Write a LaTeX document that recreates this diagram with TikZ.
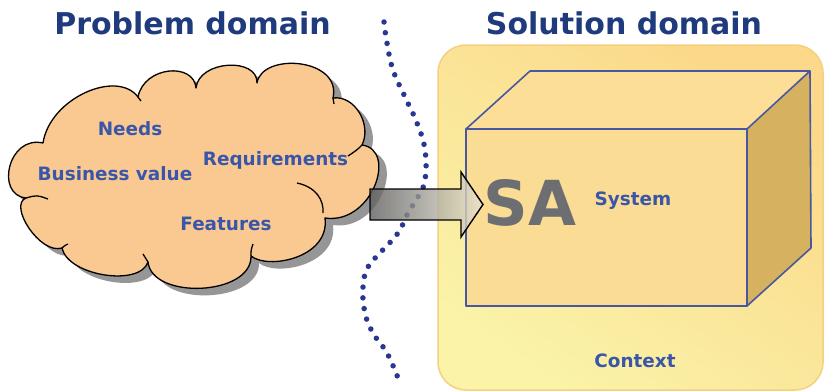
\documentclass[tikz,border=0pt]{standalone}
\usepackage{fontspec}
\setmainfont{DejaVu Sans}
\usetikzlibrary{calc}

\definecolor{titleblue}{RGB}{31,58,125}
\definecolor{labelblue}{RGB}{58,86,168}
\definecolor{dotblue}{RGB}{40,55,145}
\definecolor{edgeblue}{RGB}{72,88,160}
\definecolor{cloudfill}{RGB}{250,201,146}
\definecolor{cloudshadow}{RGB}{150,150,150}
\definecolor{ctxlight}{RGB}{250,243,168}
\definecolor{ctxdark}{RGB}{251,216,138}
\definecolor{ctxedge}{RGB}{245,208,125}
\definecolor{boxfront}{RGB}{251,220,148}
\definecolor{boxtop}{RGB}{252,222,150}
\definecolor{boxside}{RGB}{214,178,96}
\definecolor{sagray}{RGB}{108,110,114}
\definecolor{arrowdark}{RGB}{95,95,95}
\definecolor{arrowlight}{RGB}{232,228,210}

% outline of the cloud: eleven lobes meeting in small notches
\newcommand\cloudoutline{(43,143)
  .. controls (50,98) and (117,69) .. (138,97)
  .. controls (144,66) and (194,62) .. (196,88)
  .. controls (199,60) and (258,57) .. (257,83)
  .. controls (262,52) and (342,58) .. (333,98)
  .. controls (355,95) and (372,125) .. (362,145)
  .. controls (398,150) and (372,225) .. (325,218)
  .. controls (330,258) and (268,270) .. (251,256)
  .. controls (252,296) and (152,300) .. (148,262)
  .. controls (140,287) and (68,276) .. (62,248)
  .. controls (40,255) and (8,205) .. (26,198)
  .. controls (-5,195) and (8,135) .. (43,143) -- cycle}

\tikzset{
  title/.style={text=titleblue, font=\fontsize{30}{30}\selectfont\bfseries, anchor=base},
  cloudlabel/.style={text=labelblue, font=\fontsize{18.4}{18.4}\selectfont\bfseries, anchor=base},
  cloudline/.style={draw=black, line width=1.3pt, line join=round},
  boxedge/.style={draw=edgeblue, line width=1.6pt, line join=round},
}

\begin{document}
\begin{tikzpicture}[x=1pt, y=-1pt]
\useasboundingbox (0,0) rectangle (825,391);
\fill[white] (0,0) rectangle (825,391);

% context area of the solution domain
\shadedraw[draw=ctxedge, line width=1.5pt, rounded corners=28pt,
  top color=ctxdark, bottom color=ctxlight, shading angle=-35]
  (438,45) rectangle (823,390);

% the system box
\fill[boxtop] (466,129) -- (530,71) -- (810,71) -- (747,129) -- cycle;
\fill[boxside] (747,129) -- (810,71) -- (811,248) -- (747,306) -- cycle;
\fill[boxfront] (466,129) rectangle (747,306);
\draw[boxedge] (466,129) -- (530,71) -- (810,71) -- (747,129);
\draw[boxedge] (810,71) -- (811,248) -- (747,306);
\draw[boxedge] (466,129) rectangle (747,306);

% border between the two domains
\draw[dotblue, line width=5.5pt, line cap=round, dash pattern=on 0pt off 10.8pt]
  plot[smooth, tension=0.7] coordinates {(384,22) (387,43) (393,70) (405,97)
  (417,123) (425,150) (425,180) (418,197) (408,213) (398,233) (380,253)
  (368,267) (363,287) (365,313) (373,333) (387,353) (398,378)};

% the cloud with its shadow
\fill[cloudshadow] [shift={(8,7)}] \cloudoutline;
\path[cloudline, fill=cloudfill] \cloudoutline;
\draw[cloudline] (362,145) .. controls (357,150) .. (348,156);
\draw[cloudline] (297,183) .. controls (316,187) and (324,200) .. (323,213);
\draw[cloudline] (251,256) .. controls (251,250) .. (253,244);
\draw[cloudline] (148,262) .. controls (146,258) .. (143,254);
\draw[cloudline] (62,248) .. controls (64,246) .. (68,244);
\draw[cloudline] (26,198) .. controls (37,195) .. (48,199);
\draw[cloudline] (138,97) .. controls (140,99) .. (141,101);
\draw[cloudline] (333,98) .. controls (333,101) .. (334,104);

\node[cloudlabel] (needs) at (130,135) {Needs};
\node[cloudlabel] (value) at (115,180) {Business value};
\node[cloudlabel] (req) at (275.5,165) {Requirements};
\node[cloudlabel] (feat) at (226,230) {Features};

% transition arrow from problem to solution
\coordinate (from) at (370,204.5);
\coordinate (to) at (483,204.5);
\shadedraw[draw=black, line width=1.4pt, line join=miter, fill opacity=0.8,
  left color=arrowdark, right color=arrowlight]
  ($(from)+(0,-15.5)$) -- ($(to)+(-22,-15.5)$) -- ($(to)+(-22,-32.5)$) -- (to)
  -- ($(to)+(-22,32.5)$) -- ($(to)+(-22,15.5)$) -- ($(from)+(0,15.5)$) -- cycle;

% texts of the solution side
\node[text=sagray, font=\fontsize{62}{62}\selectfont\bfseries, anchor=base] (sa) at (530,225) {SA};
\node[cloudlabel] (system) at (633,205) {System};
\node[cloudlabel] (context) at (635,367) {Context};

% headings
\node[title] (problem) at (192.5,34.5) {Problem domain};
\node[title] (solution) at (624,34) {Solution domain};
\end{tikzpicture}
\end{document}
